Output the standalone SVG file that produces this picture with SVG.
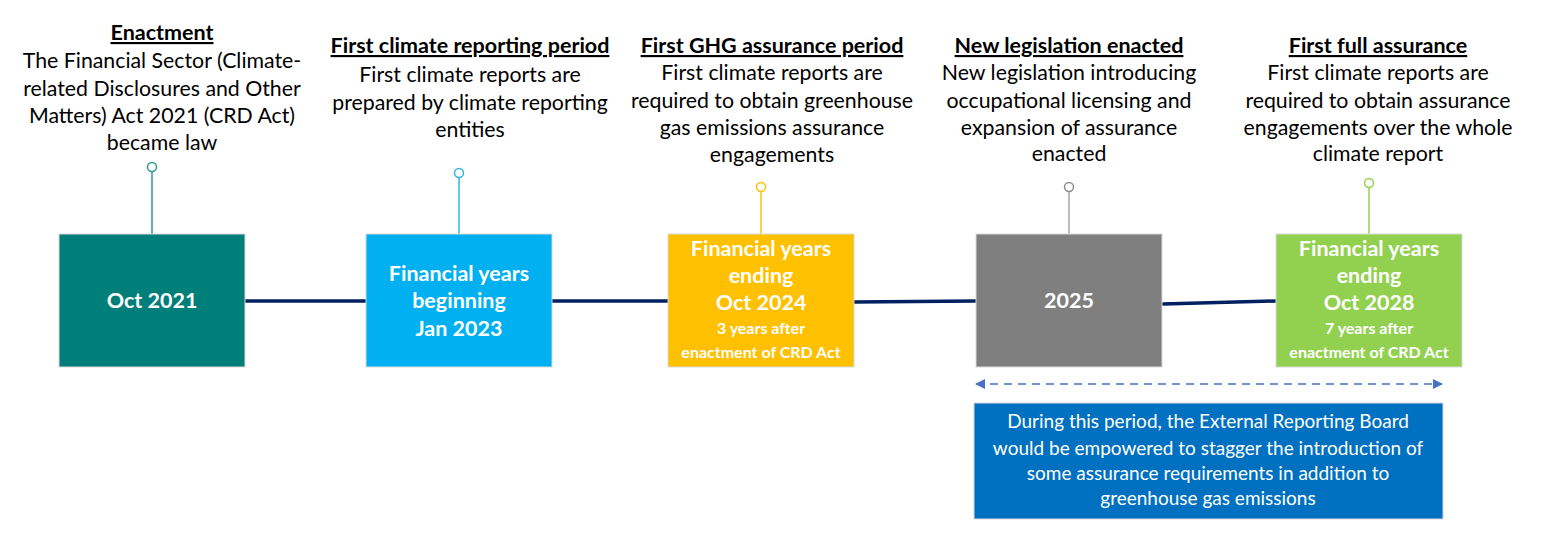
<svg xmlns="http://www.w3.org/2000/svg" width="1544" height="550" viewBox="0 0 1544 550">
<style>
text{font-family:Lato,"Open Sans","Liberation Sans",sans-serif;text-anchor:middle}
.h{font-size:21.5px;font-weight:bold;fill:#000;text-decoration:underline}
.b{font-size:21.3px;fill:#000}
.bx{font-size:21.5px;font-weight:bold;fill:#fff}
.sm{font-size:16px;font-weight:bold;fill:#fff}
.nt{font-size:19px;fill:#fff}
.box{stroke:#d9d9d9;stroke-width:1}
.stem{stroke-width:1.5;fill:none}
.dot{fill:#fff;stroke-width:1.5}
.conn{stroke:#002060;stroke-width:3.5;fill:none;stroke-linecap:round}
</style>
<defs>
<marker id="ah" viewBox="0 0 10 10" refX="9" refY="5" markerWidth="10" markerHeight="10" markerUnits="userSpaceOnUse" orient="auto-start-reverse">
<path d="M0,0 L10,5 L0,10 z" fill="#4472C4"/>
</marker>
</defs>
<rect width="1544" height="550" fill="#fff"/>
<g id="connectors">
<line class="conn" x1="245" y1="301" x2="366" y2="301"/>
<line class="conn" x1="552" y1="301" x2="668" y2="301"/>
<line class="conn" x1="854" y1="302" x2="976" y2="301"/>
<line class="conn" x1="1163" y1="304" x2="1276" y2="301"/>
<line x1="976" y1="384" x2="1442" y2="384" stroke="#4472C4" stroke-width="1.5" stroke-dasharray="8,6" marker-start="url(#ah)" marker-end="url(#ah)"/>
</g>
<g id="node-enactment">
<text class="h" x="162" y="40">Enactment</text>
<text class="b" x="162" y="68">The Financial Sector (Climate-</text>
<text class="b" x="162" y="96">related Disclosures and Other</text>
<text class="b" x="162" y="123">Matters) Act 2021 (CRD Act)</text>
<text class="b" x="162" y="150">became law</text>
<line class="stem" x1="152" y1="171" x2="152" y2="234" stroke="#2E9C94"/>
<circle class="dot" cx="152" cy="167" r="4.5" stroke="#2E9C94"/>
<rect class="box" x="59" y="234" width="186" height="133" fill="#007E79"/>
<text class="bx" x="152" y="308">Oct 2021</text>
</g>
<g id="node-first-reporting">
<text class="h" x="470" y="53">First climate reporting period</text>
<text class="b" x="470" y="82">First climate reports are</text>
<text class="b" x="470" y="110">prepared by climate reporting</text>
<text class="b" x="470" y="137">entities</text>
<line class="stem" x1="459" y1="177" x2="459" y2="234" stroke="#2EB5E8"/>
<circle class="dot" cx="459" cy="173" r="4.5" stroke="#2EB5E8"/>
<rect class="box" x="366" y="234" width="186" height="133" fill="#00B0F0"/>
<text class="bx" x="459" y="281">Financial years</text>
<text class="bx" x="459" y="308">beginning</text>
<text class="bx" x="459" y="336">Jan 2023</text>
</g>
<g id="node-ghg">
<text class="h" x="772" y="53">First GHG assurance period</text>
<text class="b" x="772" y="80">First climate reports are</text>
<text class="b" x="772" y="108">required to obtain greenhouse</text>
<text class="b" x="772" y="135">gas emissions assurance</text>
<text class="b" x="772" y="162">engagements</text>
<line class="stem" x1="761" y1="191" x2="761" y2="234" stroke="#FFC000"/>
<circle class="dot" cx="761" cy="187" r="4.5" stroke="#FFC000"/>
<rect class="box" x="668" y="234" width="186" height="133" fill="#FFC000"/>
<text class="bx" x="761" y="256">Financial years</text>
<text class="bx" x="761" y="283">ending</text>
<text class="bx" x="761" y="310">Oct 2024</text>
<text class="sm" x="761" y="334">3 years after</text>
<text class="sm" x="761" y="358">enactment of CRD Act</text>
</g>
<g id="node-legislation">
<text class="h" x="1069" y="53">New legislation enacted</text>
<text class="b" x="1069" y="80">New legislation introducing</text>
<text class="b" x="1069" y="108">occupational licensing and</text>
<text class="b" x="1069" y="135">expansion of assurance</text>
<text class="b" x="1069" y="161">enacted</text>
<line class="stem" x1="1069" y1="191" x2="1069" y2="234" stroke="#A6A6A6"/>
<circle class="dot" cx="1069" cy="187" r="4.5" stroke="#8C8C8C"/>
<rect class="box" x="976" y="234" width="186" height="133" fill="#7F7F7F"/>
<text class="bx" x="1069" y="308">2025</text>
</g>
<g id="node-full-assurance">
<text class="h" x="1378" y="53">First full assurance</text>
<text class="b" x="1378" y="80">First climate reports are</text>
<text class="b" x="1378" y="108">required to obtain assurance</text>
<text class="b" x="1378" y="135">engagements over the whole</text>
<text class="b" x="1378" y="161">climate report</text>
<line class="stem" x1="1369" y1="187" x2="1369" y2="234" stroke="#92D050"/>
<circle class="dot" cx="1369" cy="183" r="4.5" stroke="#92D050"/>
<rect class="box" x="1276" y="234" width="186" height="133" fill="#92D050"/>
<text class="bx" x="1369" y="256">Financial years</text>
<text class="bx" x="1369" y="283">ending</text>
<text class="bx" x="1369" y="310">Oct 2028</text>
<text class="sm" x="1369" y="334">7 years after</text>
<text class="sm" x="1369" y="358">enactment of CRD Act</text>
</g>
<g id="node-period-note">
<rect class="box" x="974" y="403" width="469" height="116" fill="#0070C0"/>
<text class="nt" x="1208" y="428">During this period, the External Reporting Board</text>
<text class="nt" x="1208" y="455">would be empowered to stagger the introduction of</text>
<text class="nt" x="1208" y="480">some assurance requirements in addition to</text>
<text class="nt" x="1208" y="505">greenhouse gas emissions</text>
</g>
</svg>
